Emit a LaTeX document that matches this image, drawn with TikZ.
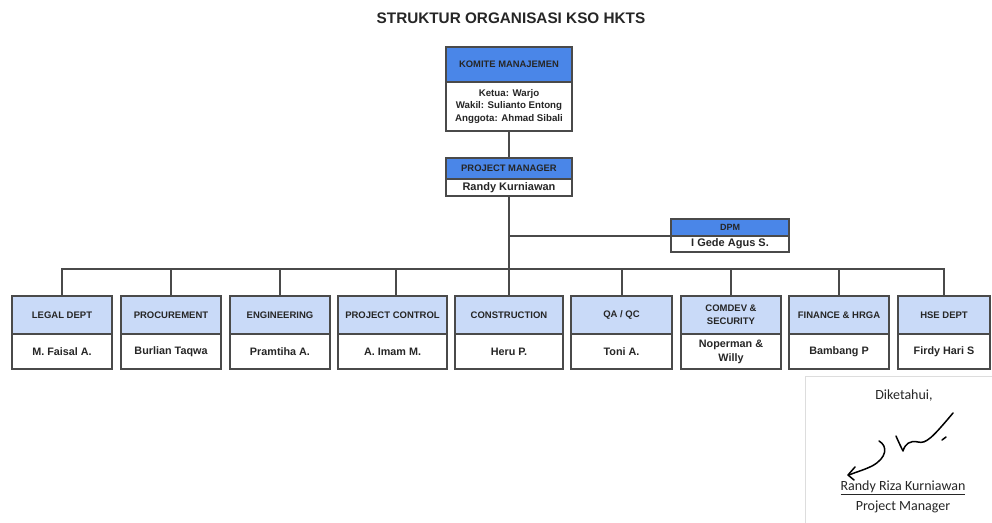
\documentclass[tikz,border=0pt]{standalone}
\usepackage{fontspec}
\setmainfont{Liberation Sans}
\newfontfamily\sigfont{Carlito}
\definecolor{hdrdark}{HTML}{4A86E8}
\definecolor{hdrlight}{HTML}{C9DAF8}
\definecolor{boxline}{HTML}{4A4A4A}
\definecolor{txt}{HTML}{262626}
\definecolor{sigline}{HTML}{DDDDDD}
\tikzset{
  boxpart/.style={draw=boxline, line width=1.3pt, inner sep=0pt, outer sep=0pt, align=center, text=txt},
  hdrtop/.style={boxpart, fill=hdrdark, font=\bfseries\fontsize{9.4}{11}\selectfont},
  hdrdept/.style={boxpart, fill=hdrlight, font=\bfseries\fontsize{9.5}{13}\selectfont},
  bodybox/.style={boxpart, fill=white, font=\bfseries\fontsize{10.8}{14}\selectfont},
  conn/.style={draw=boxline, line width=1.3pt},
  sigtext/.style={font=\sigfont\fontsize{14}{16}\selectfont, text=txt},
  sigstroke/.style={draw=black, line width=1.5pt, line cap=round, line join=round}
}
\newcommand\deptbox[5]{%
  \node[hdrdept, minimum width=#3-#2, minimum height=38] (#1H) at ({(#2+#3)/2},315) {#4};
  \node[bodybox, minimum width=#3-#2, minimum height=35] (#1) at ({(#2+#3)/2},351.5) {#5};
}
\begin{document}
\begin{tikzpicture}[x=1pt,y=-1pt]
\useasboundingbox (0,0) rectangle (992,522);
\clip (0,0) rectangle (992,522);
% title
\node[font=\bfseries\fontsize{15.3}{18}\selectfont, text=txt] (title) at (511,18) {STRUKTUR ORGANISASI KSO HKTS};
% komite
\node[hdrtop, minimum width=126, minimum height=35] (kmH) at (509,64.5) {KOMITE MANAJEMEN};
\node[bodybox, minimum width=126, minimum height=49, font=\bfseries\fontsize{9.7}{12.8}\selectfont] (km) at (509,106.5) {Ketua: Warjo\\Wakil: Sulianto Entong\\Anggota: Ahmad Sibali};
% project manager
\node[hdrtop, minimum width=126, minimum height=21] (pmH) at (509,168.5) {PROJECT MANAGER};
\node[bodybox, minimum width=126, minimum height=17, font=\bfseries\fontsize{11}{13}\selectfont] (pm) at (509,187.5) {Randy Kurniawan};
% dpm
\node[hdrtop, minimum width=118, minimum height=17, font=\bfseries\fontsize{9}{11}\selectfont] (dpmH) at (730,227.5) {DPM};
\node[bodybox, minimum width=118, minimum height=16, font=\bfseries\fontsize{11}{13}\selectfont] (dpm) at (730,244) {I Gede Agus S.};
% departments
\deptbox{legal}{12}{112}{LEGAL DEPT}{M. Faisal A.}
\deptbox{proc}{121}{221}{PROCUREMENT}{Burlian Taqwa}
\deptbox{eng}{230}{330}{ENGINEERING}{Pramtiha A.}
\deptbox{pc}{338}{447}{PROJECT CONTROL}{A. Imam M.}
\deptbox{cons}{455}{563}{CONSTRUCTION}{Heru P.}
\deptbox{qa}{571}{672}{QA / QC}{Toni A.}
\deptbox{com}{681}{781}{COMDEV \&\\SECURITY}{Noperman \&\\Willy}
\deptbox{fin}{789}{889}{FINANCE \& HRGA}{Bambang P}
\deptbox{hse}{898}{990}{HSE DEPT}{Firdy Hari S}
% connectors
\coordinate (bus) at (509,269);
\draw[conn] (km.south) -- (pmH.north);
\draw[conn] (pm.south) -- (consH.north);
\draw[conn] (pm.south |- dpm.north west) -- (dpm.north west);
\draw[conn] (legalH.north) |- (bus) -| (hseH.north);
\foreach \n in {proc,eng,cons,com,fin}{
  \draw[conn] (\n H.north) -- (\n H.north |- bus);
}
\draw[conn] ([xshift=3.5pt]pcH.north) -- ([xshift=3.5pt]pcH.north |- bus);
\draw[conn] ([xshift=0.5pt]qaH.north) -- ([xshift=0.5pt]qaH.north |- bus);
% signature block
\draw[sigline, line width=1pt] (805,530) -- (805,376) -- (1000,376);
\node[sigtext] (dik) at (904,396) {Diketahui,};
\node[sigtext] (sname) at (903,488) {\underline{Randy Riza Kurniawan}};
\node[sigtext] (srole) at (903,507) {Project Manager};
\draw[sigstroke] (879,441) .. controls (888,446) and (887,458) .. (872,466) .. controls (864,470) and (856,472) .. (849,475);
\draw[sigstroke] (855,467) -- (848,475) -- (854,480);
\draw[sigstroke] (896,436) .. controls (899,443) and (901,447) .. (903,451) .. controls (905,444) and (910,440) .. (918,442) .. controls (926,444) and (932,438) .. (953,413);
\draw[sigstroke] (942,440) -- (946,437);
\end{tikzpicture}
\end{document}
